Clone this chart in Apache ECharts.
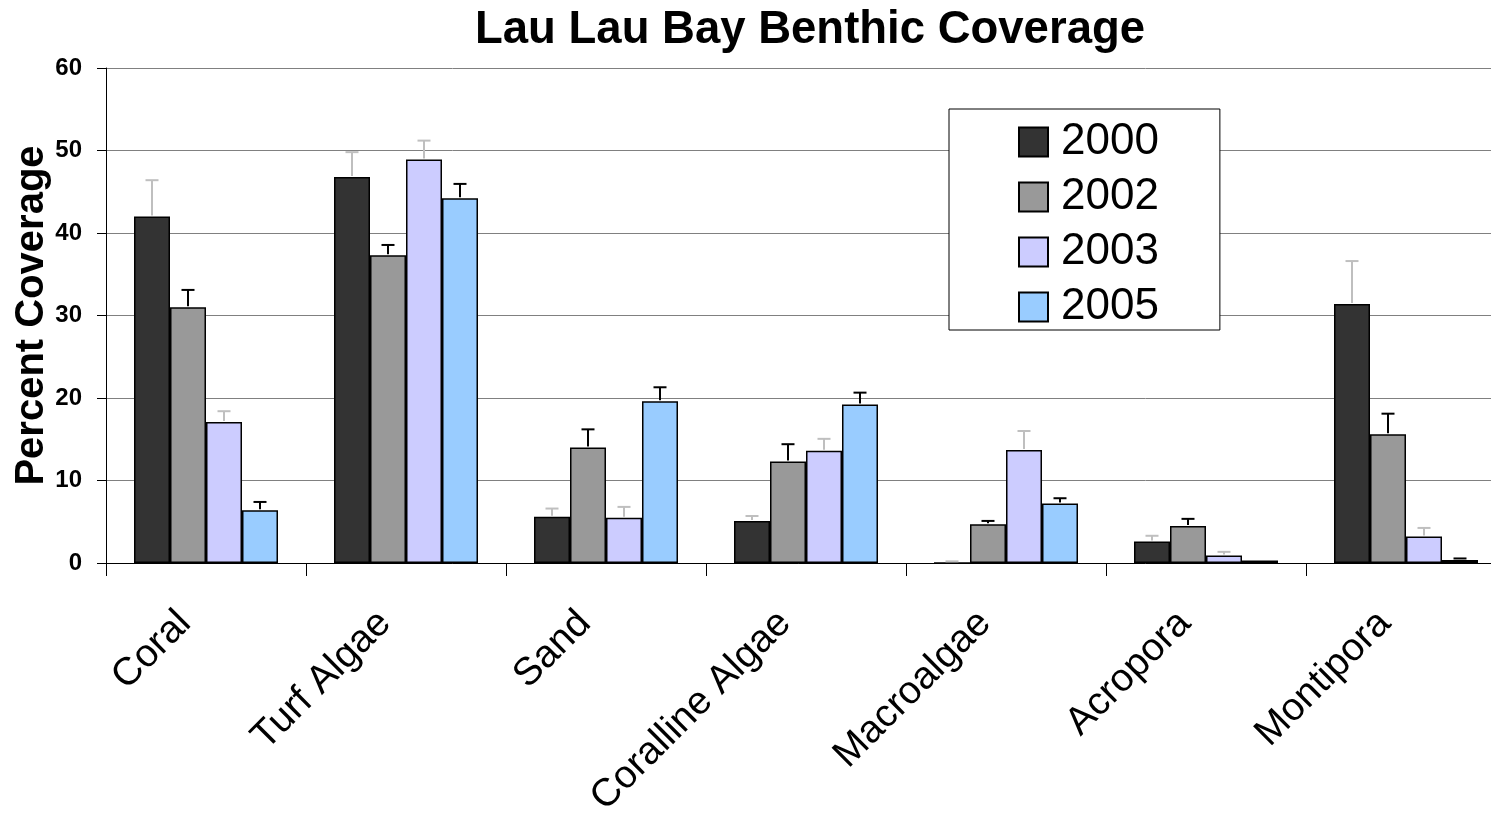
<!DOCTYPE html>
<html>
<head>
<meta charset="utf-8">
<script src="https://cdn.jsdelivr.net/npm/echarts@6/dist/echarts.min.js"></script>
<style>
html,body{margin:0;padding:0;background:#fff;}
#chart{width:1491px;height:814px;}
</style>
</head>
<body>
<div id="chart"></div>
<script>
const categories = ['Coral', 'Turf Algae', 'Sand', 'Coralline Algae', 'Macroalgae', 'Acropora', 'Montipora'];
const years = ['2000', '2002', '2003', '2005'];
const values2000 = [42.0, 46.8, 5.6, 5.1, 0.0, 2.6, 31.4];
const values2002 = [31.0, 37.3, 14.0, 12.3, 4.7, 4.5, 15.6];
const values2003 = [17.1, 48.9, 5.5, 13.6, 13.7, 0.9, 3.2];
const values2005 = [6.4, 44.2, 19.6, 19.2, 7.2, 0.3, 0.35];
const errors2000 = [4.4, 3.0, 1.0, 0.6, 0.2, 0.7, 5.2];
const errors2002 = [2.1, 1.25, 2.2, 2.1, 0.4, 0.85, 2.5];
const errors2003 = [1.3, 2.3, 1.3, 1.45, 2.3, 0.45, 1.05];
const errors2005 = [1.0, 1.75, 1.7, 1.45, 0.65, 0.0, 0.2];
const yTicks = [0, 10, 20, 30, 40, 50, 60];

const allValues = [values2000, values2002, values2003, values2005];
const allErrors = [errors2000, errors2002, errors2003, errors2005];
const barColors = ['#333333', '#999999', '#ccccff', '#99ccff'];
const errColors = ['#bfbfbf', '#000000', '#bfbfbf', '#000000'];
const BAR_W = 36;

const chart = echarts.init(document.getElementById('chart'), null, {renderer: 'canvas'});

const series = [];
years.forEach((y, si) => {
  series.push({
    name: y,
    type: 'bar',
    data: allValues[si],
    barWidth: BAR_W,
    barGap: '0%',
    itemStyle: {color: barColors[si], borderColor: '#000', borderWidth: 1.5},
    emphasis: {disabled: true},
    animation: false,
    z: 2
  });
});
years.forEach((y, si) => {
  series.push({
    name: y + ' error',
    type: 'custom',
    data: allValues[si].map((v, i) => [i, v, allErrors[si][i]]),
    encode: {x: 0, y: 1},
    silent: true,
    animation: false,
    z: 5,
    renderItem: function (params, api) {
      const i = api.value(0), v = api.value(1), e = api.value(2);
      if (!(e > 0)) return null;
      const base = api.coord([i, v]);
      const top = api.coord([i, v + e]);
      const x = base[0] + (si - 1.5) * BAR_W;
      const c = errColors[si];
      return {
        type: 'group',
        children: [
          {type: 'line', shape: {x1: x, y1: base[1] - 1, x2: x, y2: top[1]}, style: {stroke: c, lineWidth: 2}},
          {type: 'line', shape: {x1: x - 6.5, y1: top[1], x2: x + 6.5, y2: top[1]}, style: {stroke: c, lineWidth: 2}}
        ]
      };
    }
  });
});

chart.setOption({
  animation: false,
  backgroundColor: '#ffffff',
  title: {
    text: 'Lau Lau Bay Benthic Coverage',
    left: 470,
    top: 3,
    textStyle: {fontFamily: 'Liberation Sans, Arial, sans-serif', fontWeight: 'bold', fontSize: 45.5, color: '#000', lineHeight: 45}
  },
  legend: {
    data: years,
    orient: 'vertical',
    left: 949,
    top: 109,
    itemWidth: 29,
    itemHeight: 29,
    itemGap: 11,
    padding: [11, 61, 1, 69],
    backgroundColor: '#ffffff',
    borderColor: '#000000',
    borderWidth: 1,
    icon: 'rect',
    selectedMode: false,
    textStyle: {fontFamily: 'Liberation Sans, Arial, sans-serif', fontSize: 44, color: '#000', padding: [0, 0, 0, 8]}
  },
  grid: {left: 106, top: 68, right: -15, bottom: 251, containLabel: false, outerBoundsMode: 'none'},
  xAxis: {
    type: 'category',
    data: categories,
    axisLine: {lineStyle: {color: '#000', width: 1}},
    axisTick: {show: true, length: 13, interval: 0, lineStyle: {color: '#000'}},
    axisLabel: {
      interval: 0, rotate: 45, margin: 33, padding: [0, 30, 0, 0],
      fontFamily: 'Liberation Sans, Arial, sans-serif', fontSize: 39, color: '#000'
    },
    splitLine: {show: false}
  },
  yAxis: {
    type: 'value',
    min: yTicks[0],
    max: yTicks[yTicks.length - 1],
    interval: 10,
    name: 'Percent Coverage',
    nameLocation: 'middle',
    nameGap: 54,
    nameMoveOverlap: false,
    nameRotate: 90,
    nameTextStyle: {fontFamily: 'Liberation Sans, Arial, sans-serif', fontWeight: 'bold', fontSize: 40, color: '#000'},
    axisLine: {show: true, lineStyle: {color: '#000', width: 1}},
    axisTick: {show: true, length: 9, lineStyle: {color: '#000'}},
    axisLabel: {margin: 24, fontFamily: 'Liberation Sans, Arial, sans-serif', fontWeight: 'bold', fontSize: 24, color: '#000'},
    splitLine: {show: true, lineStyle: {color: '#808080', width: 1}}
  },
  series: series
});
</script>
</body>
</html>
